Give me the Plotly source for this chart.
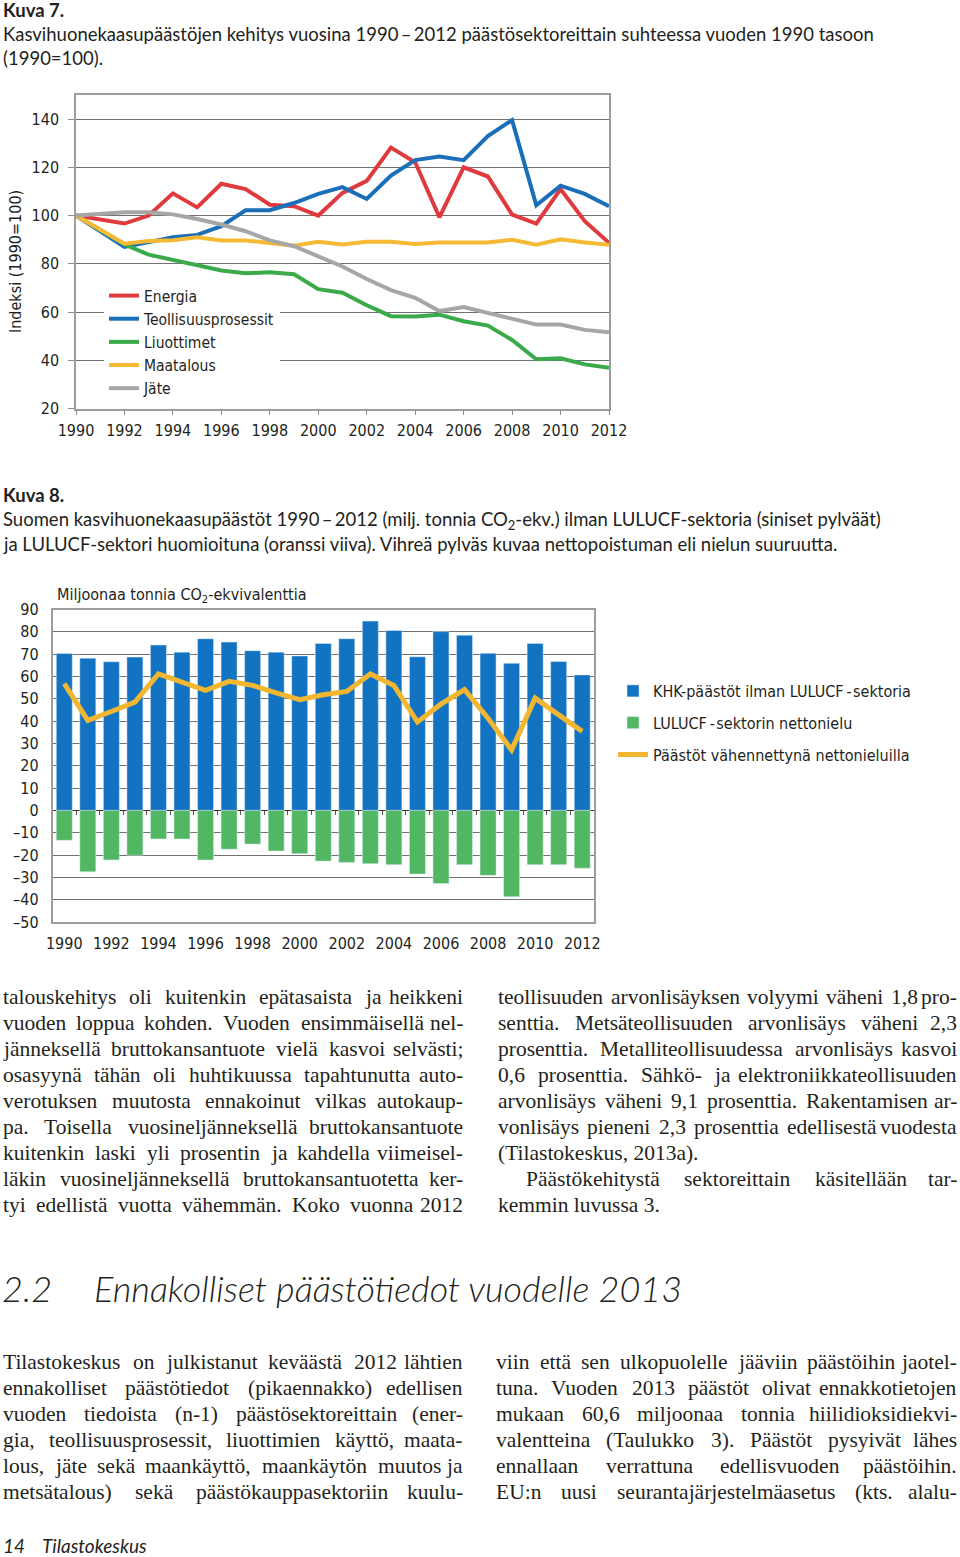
import plotly.graph_objects as go

W, H = 960, 1557

# ---------------- data: Kuva 7 (index 1990=100) ----------------
years = list(range(1990, 2013))
energia = [100, 98.4, 96.7, 100, 109.2, 103.4, 113.2, 111, 104.5, 103.9, 100, 109.4, 114.4,
           128.2, 122.1, 99.3, 120, 116.2, 100.4, 96.7, 111, 97.7, 88.7]
teollisuus = [100, 93.5, 87, 89, 91, 92, 95.6, 102.2, 102.2, 105.2, 109, 111.8, 106.9,
              116.6, 123, 124.5, 123, 133, 139.6, 104.3, 112.4, 109, 103.9]
liuottimet = [100, 94, 88, 83.8, 81.5, 79.6, 77.2, 76.1, 76.5, 75.7, 69.5, 68.0, 62.8,
              58.3, 58.2, 58.9, 56.2, 54.4, 48.4, 40.4, 40.8, 38.3, 36.9]
maatalous = [100, 94.2, 88.3, 89.5, 89.8, 91, 89.7, 89.7, 88.6, 87.5, 89.1, 88, 89.1,
             89.1, 88.2, 88.8, 88.8, 88.8, 90, 87.9, 90.2, 88.8, 87.9]
jate = [100, 100.8, 101.4, 101.4, 100.5, 98.6, 96.3, 93.5, 89.7, 87.3, 83, 78.9, 73.7,
        69.1, 65.9, 60.4, 62.1, 59.6, 56.9, 54.8, 54.8, 52.6, 51.6]
names1 = ["Energia", "Teollisuusprosessit", "Liuottimet", "Maatalous", "Jäte"]
y1_ticks = [20, 40, 60, 80, 100, 120, 140]

# ---------------- data: Kuva 8 (Mt CO2-eq) ----------------
khk = [70.3, 68.2, 66.6, 68.7, 74.1, 70.9, 76.9, 75.4, 71.5, 70.9, 69.2, 74.8, 76.9,
       84.8, 80.6, 68.8, 80.1, 78.5, 70.4, 65.9, 74.8, 66.7, 60.7]
nielu = [-13.4, -27.5, -22.2, -20.1, -12.8, -12.8, -22.2, -17.4, -15.1, -18.2, -19.4, -22.7,
         -23.3, -23.9, -24.3, -28.5, -32.8, -24.3, -29.1, -38.7, -24.3, -24.3, -25.9]
netto = [56.8, 40.3, 44.3, 48.5, 61.1, 57.5, 53.8, 57.8, 56.0, 52.6, 49.6, 51.8, 53.3,
         61.1, 56.0, 39.6, 47.6, 54.1, 41.3, 27.1, 50.3, 42.8, 35.4]
names2 = ["KHK-päästöt ilman LULUCF\u2009-\u200asektoria", "LULUCF\u2009-\u200asektorin nettonielu",
          "Päästöt vähennettynä nettonieluilla"]
y2_ticks = list(range(-50, 91, 10))
y2_text = [("\u2013" + str(-v)) if v < 0 else str(v) for v in y2_ticks]

NARROW = "DejaVu Sans Condensed, sans-serif"
SANS = "Lato, Noto Sans, sans-serif"
SERIF = "Liberation Serif, DejaVu Serif, serif"
TXT = "#231f20"
CH = 16  # chart font size


def fx(px):
    return px / W


def fy(py):
    return 1 - py / H


fig = go.Figure()

colors1 = ["#E03A3E", "#1B6FB8", "#3BAA4A", "#F6B935", "#A6A6A6"]
for nm, vals, c in zip(names1, [energia, teollisuus, liuottimet, maatalous, jate], colors1):
    fig.add_trace(go.Scatter(x=years, y=vals, name=nm, mode="lines",
                             line=dict(color=c, width=4), xaxis="x", yaxis="y",
                             legend="legend"))

fig.add_trace(go.Bar(x=years, y=khk, name=names2[0], marker_color="#1273C2", width=0.68,
                     xaxis="x2", yaxis="y2", legend="legend2", legendgroup="a"))
fig.add_trace(go.Bar(x=years, y=nielu, name=names2[1], marker_color="#52B763", width=0.68,
                     xaxis="x2", yaxis="y2", legend="legend2", legendgroup="b"))
fig.add_trace(go.Scatter(x=years, y=netto, name=names2[2], mode="lines",
                         line=dict(color="#F2B630", width=5), xaxis="x2", yaxis="y2",
                         legend="legend2", legendgroup="c"))
# helper trace for the tick marks along the zero line
fig.add_trace(go.Scatter(x=[years[0]], y=[0], mode="markers", marker=dict(opacity=0),
                         showlegend=False, hoverinfo="skip", xaxis="x3", yaxis="y2"))

# domains
d1x = [fx(76), fx(609)]
d1y = [fy(408.5), fy(95)]
d2x = [fx(52.5), fx(594)]
d2y = [fy(922), fy(609.5)]
y2min, y2max = -50, 90
zero_pos = d2y[0] + (0 - y2min) / (y2max - y2min) * (d2y[1] - d2y[0])

axis_common = dict(showline=True, linecolor="#9d9d9d", linewidth=1.5, mirror=True,
                   tickfont=dict(family=NARROW, size=CH, color=TXT), automargin=False)

fig.update_layout(
    width=W, height=H, autosize=False,
    margin=dict(l=0, r=0, t=0, b=0, autoexpand=False),
    paper_bgcolor="white", plot_bgcolor="white",
    barmode="relative",
    xaxis=dict(domain=d1x, anchor="y", range=[1990, 2012], tickvals=years[::2],
               ticks="outside", ticklen=5, tickcolor="#8a8a8a", showgrid=False,
               zeroline=False, ticklabelstandoff=2, **axis_common),
    yaxis=dict(domain=d1y, anchor="x", range=[20, 150], tickvals=y1_ticks,
               ticks="outside", ticklen=6, tickcolor="#8a8a8a", showgrid=True,
               gridcolor="#707070", gridwidth=1, ticklabelstandoff=6, zeroline=False,
               **axis_common),
    xaxis2=dict(domain=d2x, anchor="y2", range=[1989.5, 2012.5], tickvals=years[::2],
                ticks="", showgrid=False, zeroline=False, ticklabelstandoff=6, **axis_common),
    yaxis2=dict(domain=d2y, anchor="x2", range=[y2min, y2max], tickvals=y2_ticks,
                ticktext=y2_text, ticks="", showgrid=True, gridcolor="#707070",
                gridwidth=1, ticklabelstandoff=9,
                zeroline=True, zerolinecolor="#333333", zerolinewidth=1.3, **axis_common),
    xaxis3=dict(overlaying="x2", anchor="free", position=zero_pos, side="bottom",
                range=[1989.5, 2012.5], tickvals=[y + 0.5 for y in years[:-1]],
                ticks="outside", ticklen=4, tickcolor="#555555", showticklabels=False,
                showgrid=False, zeroline=False, showline=False, automargin=False),
    legend=dict(x=fx(104), y=fy(279), xanchor="left", yanchor="top", bgcolor="white",
                font=dict(family=NARROW, size=15.5, color=TXT), tracegroupgap=0,
                borderwidth=0),
    legend2=dict(x=fx(613), y=fy(674), xanchor="left", yanchor="top", bgcolor="rgba(0,0,0,0)",
                 font=dict(family=NARROW, size=CH, color=TXT), tracegroupgap=8,
                 borderwidth=0),
)

annotations = []


def ann(text, px, py, size, family, xanchor="left", color=TXT, italic=False, bold=False,
        weight=None, angle=0):
    f = dict(size=size, family=family, color=color)
    if italic:
        f["style"] = "italic"
    if bold:
        f["weight"] = "bold"
    elif weight:
        f["weight"] = weight
    return dict(text=text, x=fx(px), y=fy(py), xref="paper", yref="paper",
                xanchor=xanchor, yanchor="middle", showarrow=False, font=f,
                textangle=angle)


# captions
CAP = 18.5
annotations.append(ann("Kuva 7.", 1, 10, CAP, SANS, bold=True))
annotations.append(ann("Kasvihuonekaasupäästöjen kehitys vuosina 1990\u2009\u2013\u20092012 päästösektoreittain suhteessa vuoden 1990 tasoon",
                       1, 34, CAP, SANS))
annotations.append(ann("(1990=100).", 1, 58, CAP, SANS))
annotations.append(ann("Kuva 8.", 1, 495, CAP, SANS, bold=True))
annotations.append(ann("Suomen kasvihuonekaasupäästöt 1990\u2009\u2013\u20092012 (milj. tonnia CO<sub>2</sub>-ekv.) ilman LULUCF-sektoria (siniset pylväät)",
                       1, 520, CAP, SANS))
annotations.append(ann("ja LULUCF-sektori huomioituna (oranssi viiva). Vihreä pylväs kuvaa nettopoistuman eli nielun suuruutta.",
                       1, 544, CAP, SANS))
annotations.append(ann("Miljoonaa tonnia CO<sub>2</sub>-ekvivalenttia", 55, 595, CH, NARROW))
annotations.append(ann("Indeksi (1990=100)", 15, 262, CH, NARROW, xanchor="center", angle=-90))

# body text (justified word by word, Times-compatible metrics)
TW = {c: v for c, v in zip("abcdefghijklmnopqrstuvwxyz",
                            [444, 500, 444, 500, 444, 333, 500, 500, 278, 278, 500, 278, 778,
                             500, 500, 500, 500, 333, 389, 278, 500, 500, 722, 500, 500, 444])}
TW.update({c: v for c, v in zip("ABCDEFGHIJKLMNOPQRSTUVWXYZ",
                                 [722, 667, 667, 722, 611, 556, 722, 722, 333, 389, 722, 611, 889,
                                  722, 722, 556, 722, 667, 556, 611, 722, 722, 944, 722, 722, 611])})
TW.update({"ä": 444, "ö": 500, "å": 444, "Ä": 722, "Ö": 722, ".": 250, ",": 250, ";": 278,
           ":": 278, "-": 333, "(": 333, ")": 333, " ": 250})
for d in "0123456789":
    TW[d] = 500


def tw(s):
    return sum(TW.get(ch, 500) for ch in s) / 1000.0


BODY = 21.5


def line_anns(line, x0, x1, py, justify=True):
    words = line.split(" ")
    if not justify or len(words) == 1:
        return [ann(line, x0, py, BODY, SERIF)]
    widths = [tw(w) * BODY for w in words]
    gap = (x1 - x0 - sum(widths)) / (len(words) - 1)
    out = []
    x = x0
    for i, w in enumerate(words):
        if i == len(words) - 1:
            out.append(ann(w, x1, py, BODY, SERIF, xanchor="right"))
        else:
            out.append(ann(w, x, py, BODY, SERIF))
        x += widths[i] + gap
    return out


col1 = [
    "talouskehitys oli kuitenkin epätasaista ja heikkeni",
    "vuoden loppua kohden. Vuoden ensimmäisellä nel-",
    "jänneksellä bruttokansantuote vielä kasvoi selvästi;",
    "osasyynä tähän oli huhtikuussa tapahtunutta auto-",
    "verotuksen muutosta ennakoinut vilkas autokaup-",
    "pa. Toisella vuosineljänneksellä bruttokansantuote",
    "kuitenkin laski yli prosentin ja kahdella viimeisel-",
    "läkin vuosineljänneksellä bruttokansantuotetta ker-",
    "tyi edellistä vuotta vähemmän. Koko vuonna 2012",
]
col2 = [
    ("teollisuuden arvonlisäyksen volyymi väheni 1,8 pro-", 496, True),
    ("senttia. Metsäteollisuuden arvonlisäys väheni 2,3", 496, True),
    ("prosenttia. Metalliteollisuudessa arvonlisäys kasvoi", 496, True),
    ("0,6 prosenttia. Sähkö- ja elektroniikkateollisuuden", 496, True),
    ("arvonlisäys väheni 9,1 prosenttia. Rakentamisen ar-", 496, True),
    ("vonlisäys pieneni 2,3 prosenttia edellisestä vuodesta", 496, True),
    ("(Tilastokeskus, 2013a).", 496, False),
    ("Päästökehitystä sektoreittain käsitellään tar-", 524, True),
    ("kemmin luvussa 3.", 496, False),
]
col3 = [
    "Tilastokeskus on julkistanut keväästä 2012 lähtien",
    "ennakolliset päästötiedot (pikaennakko) edellisen",
    "vuoden tiedoista (n-1) päästösektoreittain (ener-",
    "gia, teollisuusprosessit, liuottimien käyttö, maata-",
    "lous, jäte sekä maankäyttö, maankäytön muutos ja",
    "metsätalous) sekä päästökauppasektoriin kuulu-",
]
col4 = [
    "viin että sen ulkopuolelle jääviin päästöihin jaotel-",
    "tuna. Vuoden 2013 päästöt olivat ennakkotietojen",
    "mukaan 60,6 miljoonaa tonnia hiilidioksidiekvi-",
    "valentteina (Taulukko 3). Päästöt pysyivät lähes",
    "ennallaan verrattuna edellisvuoden päästöihin.",
    "EU:n uusi seurantajärjestelmäasetus (kts. alalu-",
]

for i, ln in enumerate(col1):
    annotations += line_anns(ln, 1, 465, 997 + 26 * i)
for i, (ln, x0, j) in enumerate(col2):
    annotations += line_anns(ln, x0, 959, 997 + 26 * i, j)
for i, ln in enumerate(col3):
    annotations += line_anns(ln, 1, 465, 1362 + 26 * i)
for i, ln in enumerate(col4):
    annotations += line_anns(ln, 494, 959, 1362 + 26 * i)

# heading and footer
annotations.append(ann("2.2", 0, 1288, 36, SANS, italic=True, weight=300))
annotations.append(ann("Ennakolliset päästötiedot vuodelle 2013", 92, 1288, 36, SANS,
                       italic=True, weight=300))
annotations.append(ann("14", 1, 1545, 19, SANS, italic=True))
annotations.append(ann("Tilastokeskus", 40, 1545, 19, SANS, italic=True))

fig.update_layout(annotations=annotations)

fig.write_html(
    "out.html",
    config={"displayModeBar": False},
    post_script="document.body.style.margin='0px';document.body.style.padding='0px';"
                "document.documentElement.style.overflow='hidden';",
)
